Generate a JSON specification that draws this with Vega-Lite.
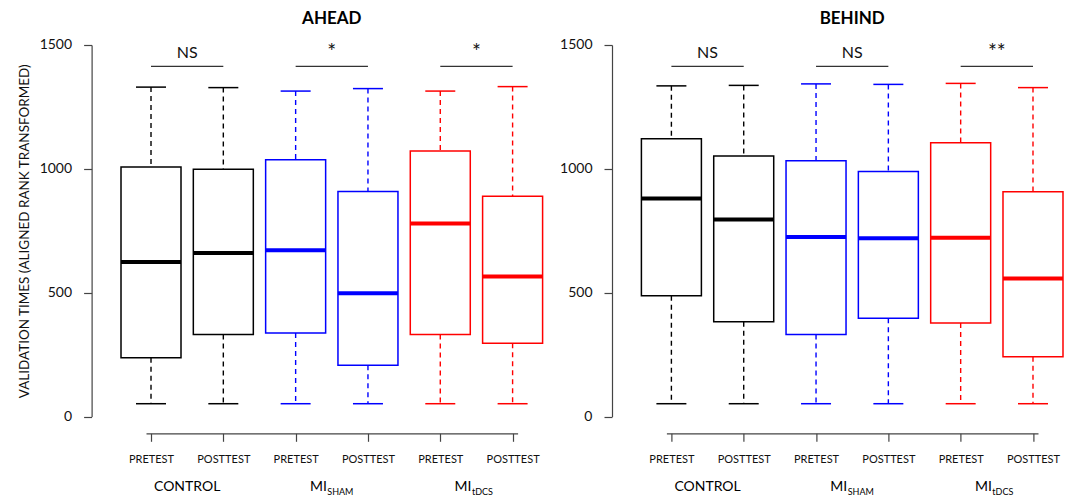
{
  "$schema": "https://vega.github.io/schema/vega-lite/v6.json",
  "background": "white",
  "padding": {"left": 17, "top": 10, "right": 5, "bottom": 5},
  "bounds": "flush",
  "spacing": 148.4,
  "config": {"view": {"stroke": null}, "font": "Lato", "text": {"font": "Lato"}},
  "datasets": {
    "boxes": [
      {"panel": "AHEAD", "group": "CONTROL", "phase": "PRETEST", "slot": 1, "lower": 52, "q1": 238, "median": 624, "q3": 1008, "upper": 1330},
      {"panel": "AHEAD", "group": "CONTROL", "phase": "POSTTEST", "slot": 2, "lower": 52, "q1": 331, "median": 660, "q3": 998, "upper": 1328},
      {"panel": "AHEAD", "group": "MI_SHAM", "phase": "PRETEST", "slot": 3, "lower": 52, "q1": 337, "median": 671, "q3": 1037, "upper": 1314},
      {"panel": "AHEAD", "group": "MI_SHAM", "phase": "POSTTEST", "slot": 4, "lower": 52, "q1": 207, "median": 498, "q3": 909, "upper": 1324},
      {"panel": "AHEAD", "group": "MI_tDCS", "phase": "PRETEST", "slot": 5, "lower": 52, "q1": 331, "median": 779, "q3": 1072, "upper": 1314},
      {"panel": "AHEAD", "group": "MI_tDCS", "phase": "POSTTEST", "slot": 6, "lower": 52, "q1": 296, "median": 566, "q3": 889, "upper": 1332},
      {"panel": "BEHIND", "group": "CONTROL", "phase": "PRETEST", "slot": 1, "lower": 52, "q1": 488, "median": 880, "q3": 1122, "upper": 1335},
      {"panel": "BEHIND", "group": "CONTROL", "phase": "POSTTEST", "slot": 2, "lower": 52, "q1": 383, "median": 796, "q3": 1052, "upper": 1337},
      {"panel": "BEHIND", "group": "MI_SHAM", "phase": "PRETEST", "slot": 3, "lower": 52, "q1": 331, "median": 725, "q3": 1033, "upper": 1343},
      {"panel": "BEHIND", "group": "MI_SHAM", "phase": "POSTTEST", "slot": 4, "lower": 52, "q1": 397, "median": 720, "q3": 989, "upper": 1341},
      {"panel": "BEHIND", "group": "MI_tDCS", "phase": "PRETEST", "slot": 5, "lower": 52, "q1": 378, "median": 722, "q3": 1105, "upper": 1345},
      {"panel": "BEHIND", "group": "MI_tDCS", "phase": "POSTTEST", "slot": 6, "lower": 52, "q1": 242, "median": 557, "q3": 908, "upper": 1328}
    ],
    "sigAhead": [
      {"group": "CONTROL", "label": "NS"},
      {"group": "MI_SHAM", "label": "*"},
      {"group": "MI_tDCS", "label": "*"}
    ],
    "sigBehind": [
      {"group": "CONTROL", "label": "NS"},
      {"group": "MI_SHAM", "label": "NS"},
      {"group": "MI_tDCS", "label": "**"}
    ],
    "groupLabels": [
      {"group": "CONTROL", "main": "CONTROL", "sub": ""},
      {"group": "MI_SHAM", "main": "MI", "sub": "SHAM"},
      {"group": "MI_tDCS", "main": "MI", "sub": "tDCS"}
    ]
  },
  "data": {"name": "boxes"},
  "hconcat": [
    {
      "width": 371.6,
      "height": 371.6,
      "title": {"text": "AHEAD", "fontSize": 17, "fontWeight": "bold", "font": "Lato", "anchor": "middle", "frame": "group", "offset": 10, "color": "#000000"},
      "transform": [{"filter": "datum.panel === 'AHEAD'"}],
      "layer": [
        {
          "mark": {"type": "rule", "strokeDash": [5, 4], "strokeWidth": 1.4},
          "encoding": {
            "x": {"field": "slot", "type": "quantitative", "scale": {"domain": [1, 6]},
              "axis": {"values": [1, 2, 3, 4, 5, 6], "labelExpr": "datum.value % 2 == 1 ? 'PRETEST' : 'POSTTEST'", "title": null, "offset": 16.7, "tickSize": 8, "labelPadding": 12, "labelFontSize": 11, "labelFont": "Lato", "labelFlush": false, "labelOverlap": false, "grid": false, "domainColor": "#444444", "tickColor": "#444444", "labelColor": "#111111", "domainWidth": 1.2, "tickWidth": 1.2}},
            "y": {"field": "upper", "type": "quantitative", "scale": {"domain": [0, 1500]},
              "axis": {"values": [0, 500, 1000, 1500], "format": "d", "title": "VALIDATION TIMES (ALIGNED RANK TRANSFORMED)", "titleFont": "Lato", "titleFontSize": 13.5, "titleFontWeight": "normal", "titleColor": "#111111", "titlePadding": 8, "offset": 54.4, "tickSize": 8, "labelPadding": 12, "labelFontSize": 14, "labelFont": "Lato", "labelColor": "#111111", "grid": false, "domainColor": "#444444", "tickColor": "#444444", "domainWidth": 1.2, "tickWidth": 1.2, "labelFlush": false}},
            "y2": {"field": "q3"},
            "color": {"field": "group", "type": "nominal", "scale": {"domain": ["CONTROL", "MI_SHAM", "MI_tDCS"], "range": ["#000000", "#0000FF", "#FF0000"]}, "legend": null}
          }
        },
        {
          "mark": {"type": "rule", "strokeDash": [5, 4], "strokeWidth": 1.4},
          "encoding": {
            "x": {"field": "slot", "type": "quantitative", "scale": {"domain": [1, 6]}},
            "y": {"field": "q1", "type": "quantitative", "scale": {"domain": [0, 1500]}},
            "y2": {"field": "lower"},
            "color": {"field": "group", "type": "nominal", "scale": {"domain": ["CONTROL", "MI_SHAM", "MI_tDCS"], "range": ["#000000", "#0000FF", "#FF0000"]}, "legend": null}
          }
        },
        {
          "mark": {"type": "bar", "fill": "white", "strokeWidth": 1.5, "size": 60},
          "encoding": {
            "x": {"field": "slot", "type": "quantitative", "scale": {"domain": [1, 6]}},
            "y": {"field": "q1", "type": "quantitative", "scale": {"domain": [0, 1500]}},
            "y2": {"field": "q3"},
            "stroke": {"field": "group", "type": "nominal", "scale": {"domain": ["CONTROL", "MI_SHAM", "MI_tDCS"], "range": ["#000000", "#0000FF", "#FF0000"]}, "legend": null}
          }
        },
        {
          "mark": {"type": "tick", "orient": "horizontal", "size": 60, "thickness": 4, "opacity": 1},
          "encoding": {
            "x": {"field": "slot", "type": "quantitative", "scale": {"domain": [1, 6]}},
            "y": {"field": "median", "type": "quantitative", "scale": {"domain": [0, 1500]}},
            "color": {"field": "group", "type": "nominal", "scale": {"domain": ["CONTROL", "MI_SHAM", "MI_tDCS"], "range": ["#000000", "#0000FF", "#FF0000"]}, "legend": null}
          }
        },
        {
          "mark": {"type": "tick", "orient": "horizontal", "size": 30, "thickness": 1.5, "opacity": 1},
          "encoding": {
            "x": {"field": "slot", "type": "quantitative", "scale": {"domain": [1, 6]}},
            "y": {"field": "upper", "type": "quantitative", "scale": {"domain": [0, 1500]}},
            "color": {"field": "group", "type": "nominal", "scale": {"domain": ["CONTROL", "MI_SHAM", "MI_tDCS"], "range": ["#000000", "#0000FF", "#FF0000"]}, "legend": null}
          }
        },
        {
          "mark": {"type": "tick", "orient": "horizontal", "size": 30, "thickness": 1.5, "opacity": 1},
          "encoding": {
            "x": {"field": "slot", "type": "quantitative", "scale": {"domain": [1, 6]}},
            "y": {"field": "lower", "type": "quantitative", "scale": {"domain": [0, 1500]}},
            "color": {"field": "group", "type": "nominal", "scale": {"domain": ["CONTROL", "MI_SHAM", "MI_tDCS"], "range": ["#000000", "#0000FF", "#FF0000"]}, "legend": null}
          }
        },
        {
          "transform": [
            {"aggregate": [{"op": "min", "field": "slot", "as": "x1"}, {"op": "max", "field": "slot", "as": "x2"}, {"op": "mean", "field": "slot", "as": "mid"}], "groupby": ["group"]},
            {"lookup": "group", "from": {"data": {"name": "sigAhead"}, "key": "group", "fields": ["label"]}}
          ],
          "layer": [
            {
              "mark": {"type": "rule", "color": "#333333", "strokeWidth": 1.3},
              "encoding": {
                "x": {"field": "x1", "type": "quantitative", "scale": {"domain": [1, 6]}},
                "x2": {"field": "x2"},
                "y": {"datum": 1414, "type": "quantitative", "scale": {"domain": [0, 1500]}}
              }
            },
            {
              "mark": {"type": "text", "font": "Lato", "color": "#111111", "baseline": "middle", "align": "center"},
              "encoding": {
                "x": {"field": "mid", "type": "quantitative", "scale": {"domain": [1, 6]}},
                "y": {"datum": 1468, "type": "quantitative", "scale": {"domain": [0, 1500]}},
                "text": {"field": "label"},
                "size": {"condition": {"test": "datum.label !== 'NS'", "value": 21}, "value": 16}
              }
            }
          ]
        },
        {
          "transform": [
            {"aggregate": [{"op": "mean", "field": "slot", "as": "mid"}], "groupby": ["group"]},
            {"lookup": "group", "from": {"data": {"name": "groupLabels"}, "key": "group", "fields": ["main", "sub"]}}
          ],
          "layer": [
            {
              "transform": [{"filter": "datum.sub === ''"}],
              "mark": {"type": "text", "fontSize": 14, "font": "Lato", "color": "#000000", "baseline": "middle", "align": "center", "dy": 70},
              "encoding": {
                "x": {"field": "mid", "type": "quantitative", "scale": {"domain": [1, 6]}},
                "y": {"datum": 0, "type": "quantitative", "scale": {"domain": [0, 1500]}},
                "text": {"field": "main"}
              }
            },
            {
              "transform": [{"filter": "datum.sub !== ''"}],
              "mark": {"type": "text", "fontSize": 14, "font": "Lato", "color": "#000000", "baseline": "middle", "align": "right", "dx": -5, "dy": 70.5},
              "encoding": {
                "x": {"field": "mid", "type": "quantitative", "scale": {"domain": [1, 6]}},
                "y": {"datum": 0, "type": "quantitative", "scale": {"domain": [0, 1500]}},
                "text": {"field": "main"}
              }
            },
            {
              "transform": [{"filter": "datum.sub !== ''"}],
              "mark": {"type": "text", "fontSize": 9, "font": "Lato", "color": "#000000", "baseline": "middle", "align": "left", "dx": -4.5, "dy": 75.5},
              "encoding": {
                "x": {"field": "mid", "type": "quantitative", "scale": {"domain": [1, 6]}},
                "y": {"datum": 0, "type": "quantitative", "scale": {"domain": [0, 1500]}},
                "text": {"field": "sub"}
              }
            }
          ]
        }
      ]
    },
    {
      "width": 371.6,
      "height": 371.6,
      "title": {"text": "BEHIND", "fontSize": 17, "fontWeight": "bold", "font": "Lato", "anchor": "middle", "frame": "group", "offset": 10, "color": "#000000"},
      "transform": [{"filter": "datum.panel === 'BEHIND'"}],
      "layer": [
        {
          "mark": {"type": "rule", "strokeDash": [5, 4], "strokeWidth": 1.4},
          "encoding": {
            "x": {"field": "slot", "type": "quantitative", "scale": {"domain": [1, 6]},
              "axis": {"values": [1, 2, 3, 4, 5, 6], "labelExpr": "datum.value % 2 == 1 ? 'PRETEST' : 'POSTTEST'", "title": null, "offset": 16.7, "tickSize": 8, "labelPadding": 12, "labelFontSize": 11, "labelFont": "Lato", "labelFlush": false, "labelOverlap": false, "grid": false, "domainColor": "#444444", "tickColor": "#444444", "labelColor": "#111111", "domainWidth": 1.2, "tickWidth": 1.2}},
            "y": {"field": "upper", "type": "quantitative", "scale": {"domain": [0, 1500]},
              "axis": {"values": [0, 500, 1000, 1500], "format": "d", "title": null, "offset": 54.4, "tickSize": 8, "labelPadding": 12, "labelFontSize": 14, "labelFont": "Lato", "labelColor": "#111111", "grid": false, "domainColor": "#444444", "tickColor": "#444444", "domainWidth": 1.2, "tickWidth": 1.2, "labelFlush": false}},
            "y2": {"field": "q3"},
            "color": {"field": "group", "type": "nominal", "scale": {"domain": ["CONTROL", "MI_SHAM", "MI_tDCS"], "range": ["#000000", "#0000FF", "#FF0000"]}, "legend": null}
          }
        },
        {
          "mark": {"type": "rule", "strokeDash": [5, 4], "strokeWidth": 1.4},
          "encoding": {
            "x": {"field": "slot", "type": "quantitative", "scale": {"domain": [1, 6]}},
            "y": {"field": "q1", "type": "quantitative", "scale": {"domain": [0, 1500]}},
            "y2": {"field": "lower"},
            "color": {"field": "group", "type": "nominal", "scale": {"domain": ["CONTROL", "MI_SHAM", "MI_tDCS"], "range": ["#000000", "#0000FF", "#FF0000"]}, "legend": null}
          }
        },
        {
          "mark": {"type": "bar", "fill": "white", "strokeWidth": 1.5, "size": 60},
          "encoding": {
            "x": {"field": "slot", "type": "quantitative", "scale": {"domain": [1, 6]}},
            "y": {"field": "q1", "type": "quantitative", "scale": {"domain": [0, 1500]}},
            "y2": {"field": "q3"},
            "stroke": {"field": "group", "type": "nominal", "scale": {"domain": ["CONTROL", "MI_SHAM", "MI_tDCS"], "range": ["#000000", "#0000FF", "#FF0000"]}, "legend": null}
          }
        },
        {
          "mark": {"type": "tick", "orient": "horizontal", "size": 60, "thickness": 4, "opacity": 1},
          "encoding": {
            "x": {"field": "slot", "type": "quantitative", "scale": {"domain": [1, 6]}},
            "y": {"field": "median", "type": "quantitative", "scale": {"domain": [0, 1500]}},
            "color": {"field": "group", "type": "nominal", "scale": {"domain": ["CONTROL", "MI_SHAM", "MI_tDCS"], "range": ["#000000", "#0000FF", "#FF0000"]}, "legend": null}
          }
        },
        {
          "mark": {"type": "tick", "orient": "horizontal", "size": 30, "thickness": 1.5, "opacity": 1},
          "encoding": {
            "x": {"field": "slot", "type": "quantitative", "scale": {"domain": [1, 6]}},
            "y": {"field": "upper", "type": "quantitative", "scale": {"domain": [0, 1500]}},
            "color": {"field": "group", "type": "nominal", "scale": {"domain": ["CONTROL", "MI_SHAM", "MI_tDCS"], "range": ["#000000", "#0000FF", "#FF0000"]}, "legend": null}
          }
        },
        {
          "mark": {"type": "tick", "orient": "horizontal", "size": 30, "thickness": 1.5, "opacity": 1},
          "encoding": {
            "x": {"field": "slot", "type": "quantitative", "scale": {"domain": [1, 6]}},
            "y": {"field": "lower", "type": "quantitative", "scale": {"domain": [0, 1500]}},
            "color": {"field": "group", "type": "nominal", "scale": {"domain": ["CONTROL", "MI_SHAM", "MI_tDCS"], "range": ["#000000", "#0000FF", "#FF0000"]}, "legend": null}
          }
        },
        {
          "transform": [
            {"aggregate": [{"op": "min", "field": "slot", "as": "x1"}, {"op": "max", "field": "slot", "as": "x2"}, {"op": "mean", "field": "slot", "as": "mid"}], "groupby": ["group"]},
            {"lookup": "group", "from": {"data": {"name": "sigBehind"}, "key": "group", "fields": ["label"]}}
          ],
          "layer": [
            {
              "mark": {"type": "rule", "color": "#333333", "strokeWidth": 1.3},
              "encoding": {
                "x": {"field": "x1", "type": "quantitative", "scale": {"domain": [1, 6]}},
                "x2": {"field": "x2"},
                "y": {"datum": 1414, "type": "quantitative", "scale": {"domain": [0, 1500]}}
              }
            },
            {
              "mark": {"type": "text", "font": "Lato", "color": "#111111", "baseline": "middle", "align": "center"},
              "encoding": {
                "x": {"field": "mid", "type": "quantitative", "scale": {"domain": [1, 6]}},
                "y": {"datum": 1468, "type": "quantitative", "scale": {"domain": [0, 1500]}},
                "text": {"field": "label"},
                "size": {"condition": {"test": "datum.label !== 'NS'", "value": 21}, "value": 16}
              }
            }
          ]
        },
        {
          "transform": [
            {"aggregate": [{"op": "mean", "field": "slot", "as": "mid"}], "groupby": ["group"]},
            {"lookup": "group", "from": {"data": {"name": "groupLabels"}, "key": "group", "fields": ["main", "sub"]}}
          ],
          "layer": [
            {
              "transform": [{"filter": "datum.sub === ''"}],
              "mark": {"type": "text", "fontSize": 14, "font": "Lato", "color": "#000000", "baseline": "middle", "align": "center", "dy": 70},
              "encoding": {
                "x": {"field": "mid", "type": "quantitative", "scale": {"domain": [1, 6]}},
                "y": {"datum": 0, "type": "quantitative", "scale": {"domain": [0, 1500]}},
                "text": {"field": "main"}
              }
            },
            {
              "transform": [{"filter": "datum.sub !== ''"}],
              "mark": {"type": "text", "fontSize": 14, "font": "Lato", "color": "#000000", "baseline": "middle", "align": "right", "dx": -5, "dy": 70.5},
              "encoding": {
                "x": {"field": "mid", "type": "quantitative", "scale": {"domain": [1, 6]}},
                "y": {"datum": 0, "type": "quantitative", "scale": {"domain": [0, 1500]}},
                "text": {"field": "main"}
              }
            },
            {
              "transform": [{"filter": "datum.sub !== ''"}],
              "mark": {"type": "text", "fontSize": 9, "font": "Lato", "color": "#000000", "baseline": "middle", "align": "left", "dx": -4.5, "dy": 75.5},
              "encoding": {
                "x": {"field": "mid", "type": "quantitative", "scale": {"domain": [1, 6]}},
                "y": {"datum": 0, "type": "quantitative", "scale": {"domain": [0, 1500]}},
                "text": {"field": "sub"}
              }
            }
          ]
        }
      ]
    }
  ]
}
